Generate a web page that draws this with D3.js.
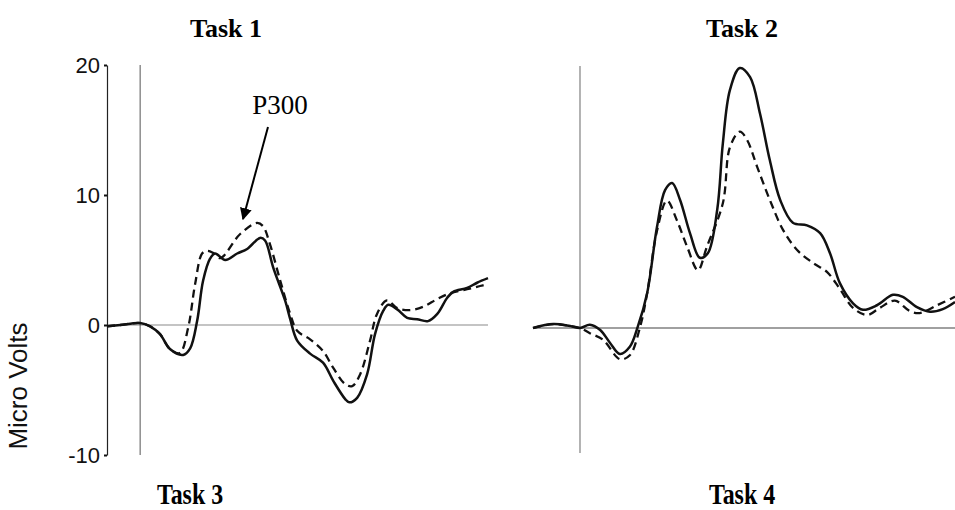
<!DOCTYPE html>
<html>
<head>
<meta charset="utf-8">
<script src="https://cdn.jsdelivr.net/npm/d3@7"></script>
<style>
  body { margin: 0; background: #fff; }
  svg { display: block; }
</style>
</head>
<body>
<svg width="955" height="510"></svg>
<script>
// left panel (P300 example), time in ms, amplitude in micro volts
var leftSolidMs = [-100, -60, 0, 30, 60, 90, 130, 151, 172, 190, 211, 226, 257, 293, 323, 362, 377, 402, 438, 453, 474, 513, 552, 583, 619, 631, 655, 685, 709, 734, 749, 776, 806, 836, 869, 897, 927, 945, 987, 1017, 1050];
var leftSolidUv = [-0.1, 0.0, 0.15, -0.1, -0.7, -1.85, -2.3, -1.8, 0.3, 3.4, 5.1, 5.5, 5.0, 5.5, 5.85, 6.7, 6.5, 4.4, 1.85, 0.45, -1.2, -2.2, -2.9, -4.3, -5.7, -5.95, -5.6, -3.8, -0.7, 1.1, 1.55, 1.2, 0.55, 0.45, 0.3, 0.85, 2.1, 2.55, 2.85, 3.25, 3.6];

var leftDashMs = [-100, -60, 0, 30, 60, 90, 120, 145, 166, 187, 202, 220, 242, 302, 353, 371, 392, 423, 453, 474, 513, 552, 583, 619, 640, 664, 694, 715, 745, 776, 815, 854, 897, 936, 987, 1026, 1050];
var leftDashUv = [-0.1, 0.0, 0.15, -0.1, -0.7, -1.85, -2.15, -0.2, 3.15, 5.5, 5.7, 5.55, 5.15, 7.0, 7.85, 7.6, 6.2, 3.4, 0.85, -0.45, -1.1, -2.0, -3.3, -4.55, -4.7, -3.8, -1.2, 0.85, 1.9, 1.3, 1.15, 1.4, 2.0, 2.45, 2.75, 3.0, 3.15];

// right panel
var rightSolidMs = [-100, -57, -21, 0, 21, 43, 64, 85, 106, 123, 143, 164, 181, 196, 213, 234, 255, 272, 292, 304, 319, 340, 362, 383, 404, 426, 453, 483, 511, 532, 553, 581, 602, 632, 666, 687, 717, 745, 772, 798];
var rightSolidUv = [0, 0.3, 0.15, 0, 0.25, -0.15, -1.15, -2.0, -1.45, 0.1, 2.7, 7.8, 10.6, 11.15, 9.85, 7.3, 5.4, 5.75, 9.1, 14.2, 18.3, 20.0, 19.3, 16.5, 12.9, 9.85, 8.1, 7.9, 7.3, 5.75, 3.45, 1.9, 1.4, 1.75, 2.55, 2.4, 1.6, 1.25, 1.45, 2.0];

var rightDashMs = [-100, -57, -21, 0, 21, 49, 85, 106, 128, 143, 164, 185, 206, 228, 251, 270, 304, 319, 340, 355, 377, 404, 432, 462, 496, 526, 553, 581, 611, 638, 670, 702, 723, 760, 798];
var rightDashUv = [0, 0.3, 0.15, 0, -0.4, -0.9, -2.4, -2.1, 0.1, 2.7, 7.5, 9.8, 8.3, 6.25, 4.45, 6.25, 9.6, 13.9, 15.1, 14.5, 12.4, 9.85, 7.55, 6.0, 5.0, 4.3, 3.0, 1.55, 1.0, 1.55, 2.1, 1.3, 1.15, 1.75, 2.4];

var yTicks = [20, 10, 0, -10];
var topTitles = ["Task 1", "Task 2"];
var bottomTitles = ["Task 3", "Task 4"];

var svg = d3.select("svg");

function zip(ms, uv) {
  return ms.map(function(d, i) { return [d, uv[i]]; });
}

// scales
var xLeft = d3.scaleLinear().domain([-100, 1050]).range([107, 488]);
var yLeft = d3.scaleLinear().domain([-10, 20]).range([455, 65]);
var xRight = d3.scaleLinear().domain([-100, 798]).range([533, 955]);
var yRight = d3.scaleLinear().domain([-10, 20]).range([458, 68]);

// ---- left panel ----
svg.append("line")
  .attr("x1", xLeft(-100)).attr("x2", xLeft(1050))
  .attr("y1", yLeft(0)).attr("y2", yLeft(0))
  .attr("stroke", "#c4c4c4").attr("stroke-width", 2);

svg.append("line")
  .attr("x1", xLeft(0)).attr("x2", xLeft(0))
  .attr("y1", yLeft(20)).attr("y2", yLeft(-10))
  .attr("stroke", "#555").attr("stroke-width", 1);

var yAxis = d3.axisLeft(yLeft)
  .tickValues(yTicks)
  .tickSize(3)
  .tickSizeOuter(0)
  .tickPadding(4)
  .tickFormat(function(d) { return String(d); });

var ax = svg.append("g")
  .attr("transform", "translate(" + xLeft(-100) + ",0)")
  .call(yAxis);
ax.select(".domain").attr("stroke", "#222").attr("stroke-width", 1.2);
ax.selectAll(".tick line").attr("stroke", "#111").attr("stroke-width", 2);
ax.selectAll("text")
  .attr("font-family", "'Liberation Sans', Arial, sans-serif")
  .attr("font-size", "22px")
  .attr("fill", "#111");

svg.append("text")
  .attr("transform", "translate(27,386) rotate(-90)")
  .attr("text-anchor", "middle")
  .attr("font-family", "'Liberation Sans', Arial, sans-serif")
  .attr("font-size", "26px")
  .attr("fill", "#111")
  .text("Micro Volts");

var lineL = d3.line()
  .x(function(d) { return xLeft(d[0]); })
  .y(function(d) { return yLeft(d[1]); })
  .curve(d3.curveCatmullRom.alpha(0.5));

svg.append("path")
  .attr("d", lineL(zip(leftDashMs, leftDashUv)))
  .attr("fill", "none").attr("stroke", "#111")
  .attr("stroke-width", 2.3).attr("stroke-dasharray", "8,5");

svg.append("path")
  .attr("d", lineL(zip(leftSolidMs, leftSolidUv)))
  .attr("fill", "none").attr("stroke", "#111")
  .attr("stroke-width", 2.5);

// P300 label + arrow
svg.append("defs").append("marker")
  .attr("id", "arrow")
  .attr("viewBox", "0 0 10 10")
  .attr("refX", 9).attr("refY", 5)
  .attr("markerWidth", 6).attr("markerHeight", 6)
  .attr("markerUnits", "strokeWidth")
  .attr("orient", "auto")
  .append("path")
  .attr("d", "M0,0 L10,5 L0,10 Z")
  .attr("fill", "#000");

svg.append("text")
  .attr("x", 280).attr("y", 114)
  .attr("text-anchor", "middle")
  .attr("font-family", "'Liberation Serif', 'Times New Roman', serif")
  .attr("font-size", "27px")
  .text("P300");

svg.append("line")
  .attr("x1", 268).attr("y1", 127)
  .attr("x2", 243).attr("y2", 219)
  .attr("stroke", "#000").attr("stroke-width", 2)
  .attr("marker-end", "url(#arrow)");

// ---- right panel ----
svg.append("line")
  .attr("x1", xRight(-100)).attr("x2", xRight(798))
  .attr("y1", yRight(0)).attr("y2", yRight(0))
  .attr("stroke", "#808080").attr("stroke-width", 1.5);

svg.append("line")
  .attr("x1", xRight(0)).attr("x2", xRight(0))
  .attr("y1", 66).attr("y2", 453)
  .attr("stroke", "#808080").attr("stroke-width", 1.2);

var lineR = d3.line()
  .x(function(d) { return xRight(d[0]); })
  .y(function(d) { return yRight(d[1]); })
  .curve(d3.curveCatmullRom.alpha(0.5));

svg.append("path")
  .attr("d", lineR(zip(rightDashMs, rightDashUv)))
  .attr("fill", "none").attr("stroke", "#111")
  .attr("stroke-width", 2.3).attr("stroke-dasharray", "8,5");

svg.append("path")
  .attr("d", lineR(zip(rightSolidMs, rightSolidUv)))
  .attr("fill", "none").attr("stroke", "#111")
  .attr("stroke-width", 2.5);

// titles
var titleX = [226, 742];
svg.selectAll(".ttop")
  .data(topTitles)
  .enter().append("text")
  .attr("class", "ttop")
  .attr("x", function(d, i) { return titleX[i]; })
  .attr("y", 37)
  .attr("text-anchor", "middle")
  .attr("font-family", "'Liberation Serif', 'Times New Roman', serif")
  .attr("font-weight", "bold")
  .attr("font-size", "26px")
  .text(function(d) { return d; });

var botX = [190, 742];
svg.selectAll(".tbot")
  .data(bottomTitles)
  .enter().append("text")
  .attr("class", "tbot")
  .attr("transform", function(d, i) { return "translate(" + botX[i] + ",504) scale(0.92,1.12)"; })
  .attr("text-anchor", "middle")
  .attr("font-family", "'Liberation Serif', 'Times New Roman', serif")
  .attr("font-weight", "bold")
  .attr("font-size", "26px")
  .text(function(d) { return d; });
</script>
</body>
</html>
